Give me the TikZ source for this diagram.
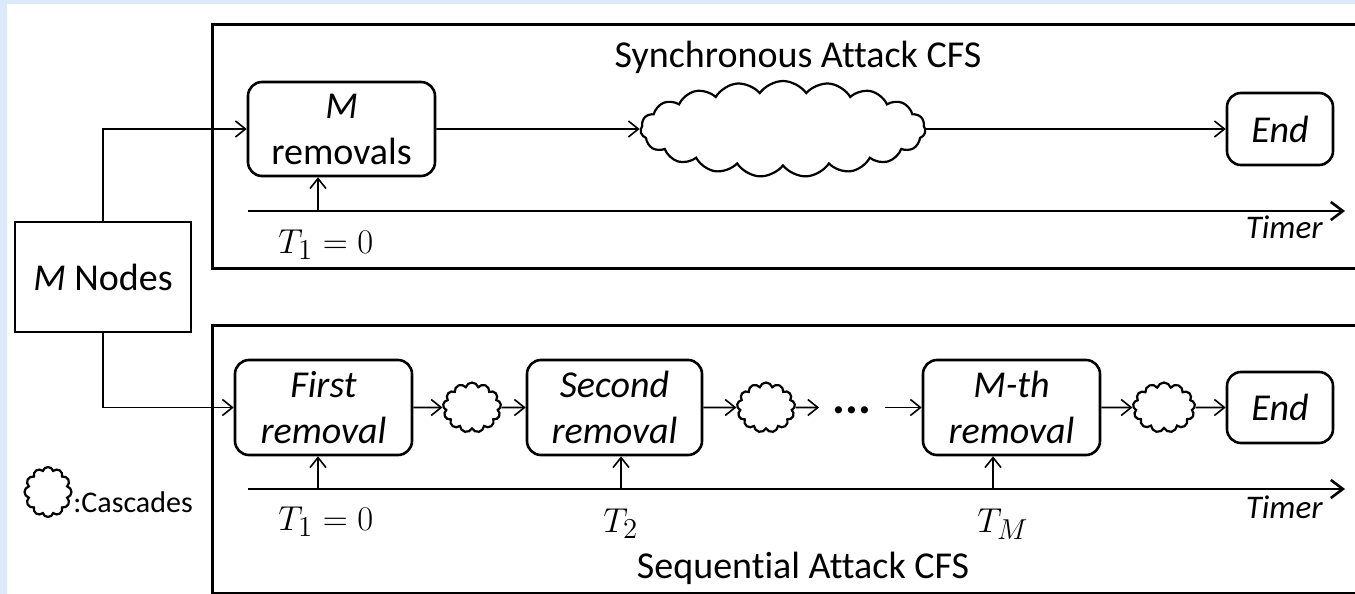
\documentclass[tikz,border=0pt]{standalone}
\usepackage{fontspec}
\setmainfont{Carlito}[Ligatures=NoCommon]
\usetikzlibrary{shapes.symbols,arrows.meta}
\definecolor{bluefringe}{RGB}{218,234,250}

\begin{document}
\begin{tikzpicture}[x=0.5pt,y=-0.5pt,
    every node/.style = {font=\fontsize{19}{23}\selectfont, inner sep=0pt},
    box/.style = {draw, line width=1.3pt, rounded corners=7pt, align=center,
      minimum width=88.5pt, minimum height=47.5pt},
    puff/.style = {cloud, draw, line width=1.1pt, cloud ignores aspect,
      cloud puffs=13, minimum width=29pt, minimum height=25pt},
    flow/.style = {line width=0.8pt, -{Straight Barb[length=5pt,width=8pt]}},
    timer/.style = {line width=1.3pt, -{Straight Barb[length=6pt,width=9pt]}},
    timertext/.style = {anchor=base east, font=\fontsize{16.5}{20}\selectfont\itshape},
    frame/.style = {line width=1.5pt}]
  \useasboundingbox (0,0) rectangle (1355,594);
  \fill[bluefringe] (0,0) rectangle (1355,594);
  \fill[white] (7,4) rectangle (1355,594);
  \draw[frame] (212,24) rectangle (1365,268);
  \draw[frame] (212,325) rectangle (1365,593);

  \node[draw, line width=1.4pt, minimum width=88pt, minimum height=55pt] (mnodes) at (103,277) {\textit{M} Nodes};

  \node[anchor=base] (synctitle) at (798,68) {Synchronous Attack CFS};
  \node[box, minimum width=93.5pt, minimum height=47pt] (mrem) at (341.5,129) {\textit{M}\\removals};
  \node[puff, cloud puffs=19, cloud puff arc=110, minimum width=142.5pt, minimum height=48pt] (bigcas) at (783,129) {};
  \node[box, minimum width=53pt, minimum height=36pt] (endA) at (1280,129) {\textit{End}};
  \coordinate (axA) at (248,211);
  \coordinate (axAend) at (1345,211);
  \coordinate (tA) at (318,211);
  \draw[timer] (axA) -- (axAend);
  \draw[flow] (tA) -- (tA |- mrem.south);
  \node[anchor=base west] (tAlab) at (278,253) {$T_1=0$};
  \node[timertext] (timerA) at (1323,238) {Timer};
  \draw[flow] (mnodes.north) |- (mrem.west);
  \draw[flow] (mrem.east) -- (bigcas.west);
  \draw[flow] (bigcas.east) -- (endA.west);

  \node[anchor=base] (seqtitle) at (803,578) {Sequential Attack CFS};
  \node[box] (first) at (323.5,407.5) {\textit{First}\\\textit{removal}};
  \node[puff] (cas1) at (472,407.5) {};
  \node[box, minimum width=87.5pt] (second) at (614.5,407.5) {\textit{Second}\\\textit{removal}};
  \node[puff] (cas2) at (766,407.5) {};
  \node[minimum width=32.5pt, font=\fontsize{24}{28}\selectfont\bfseries] (dots) at (852,410) {...};
  \node[box] (mth) at (1011.5,407.5) {\textit{M-th}\\\textit{removal}};
  \node[puff, minimum width=31pt] (cas3) at (1164,407.5) {};
  \node[box, minimum width=53pt, minimum height=35.5pt] (endB) at (1280,407.5) {\textit{End}};
  \draw[flow] (mnodes.south) |- (first.west);
  \draw[flow] (first) -- (cas1);
  \draw[flow] (cas1) -- (second);
  \draw[flow] (second) -- (cas2);
  \draw[flow] (cas2) -- (cas2 -| dots.west);
  \draw[flow] (dots.east |- mth) -- (mth);
  \draw[flow] (mth) -- (cas3);
  \draw[flow] (cas3) -- (endB);
  \coordinate (axB) at (248,489);
  \coordinate (axBend) at (1345,489);
  \coordinate (tB1) at (318,489);
  \coordinate (tB2) at (621,489);
  \coordinate (tBM) at (993,489);
  \draw[timer] (axB) -- (axBend);
  \draw[flow] (tB1) -- (tB1 |- first.south);
  \draw[flow] (tB2) -- (tB2 |- second.south);
  \draw[flow] (tBM) -- (tBM |- mth.south);
  \node[anchor=base west] (tB1lab) at (278,530) {$T_1=0$};
  \node[anchor=base west] (tB2lab) at (603,532) {$T_2$};
  \node[anchor=base west] (tBMlab) at (977,532) {$T_M$};
  \node[timertext] (timerB) at (1323,518) {Timer};

  \node[puff, cloud puffs=12, minimum width=23.5pt] (legcas) at (48,492) {};
  \node[anchor=base west, font=\fontsize{15}{18}\selectfont] (leglab) at (73,512) {:Cascades};
\end{tikzpicture}
\end{document}
